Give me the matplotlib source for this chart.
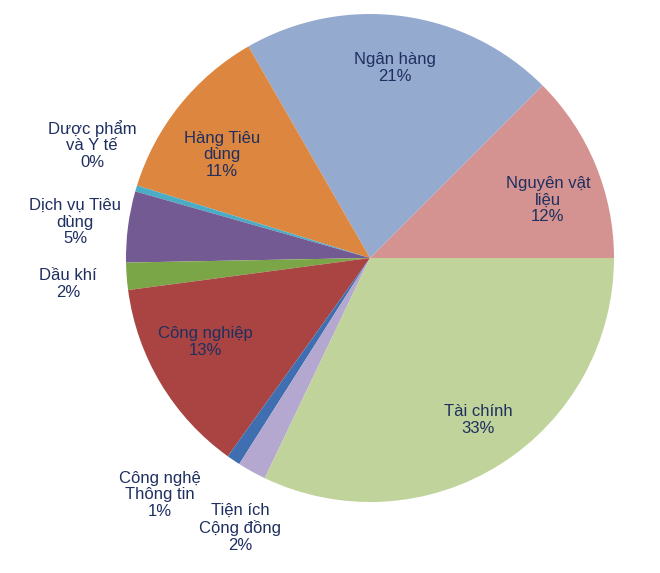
import matplotlib
matplotlib.use("Agg")
import matplotlib.pyplot as plt

labels = ["Nguyên vật\nliệu\n12%", "Ngân hàng\n21%", "Hàng Tiêu\ndùng\n11%", "Dược phẩm\nvà Y tế\n0%",
          "Dịch vụ Tiêu\ndùng\n5%", "Dầu khí\n2%", "Công nghiệp\n13%", "Công nghệ\nThông tin\n1%",
          "Tiện ích\nCộng đồng\n2%", "Tài chính\n33%"]
values = [12.5, 20.8, 11.9, 0.4, 4.7, 1.8, 13.0, 0.9, 1.9, 32.1]
colors = ["#D49390", "#95AACF", "#DD8640", "#4BACC6", "#735A92", "#7AA648", "#A94442", "#3F6FB0", "#B4A7D0", "#BFD39A"]
label_pos = [(548, 200), (395, 68), (222, 155), (92, 145), (75, 222), (68, 284), (205, 342), (160, 495), (240, 528), (478, 420)]

fig = plt.figure(figsize=(6.6, 5.73), dpi=100)
ax = fig.add_axes([0, 0, 1, 1])
ax.set_xlim(0, 660)
ax.set_ylim(0, 573)
ax.set_aspect("equal")
ax.axis("off")
ax.pie(values, colors=colors, startangle=0, counterclock=True, center=(370, 573 - 258), radius=244,
       frame=True, wedgeprops=dict(linewidth=0))
ax.set_xlim(0, 660)
ax.set_ylim(0, 573)
ax.axis("off")
for lab, (x, y) in zip(labels, label_pos):
    ax.text(x, 573 - y, lab, ha="center", va="center", fontsize=12, color="#1F2F5F",
            family="Liberation Sans", linespacing=1.15)
fig.savefig("out.png", dpi=100)
